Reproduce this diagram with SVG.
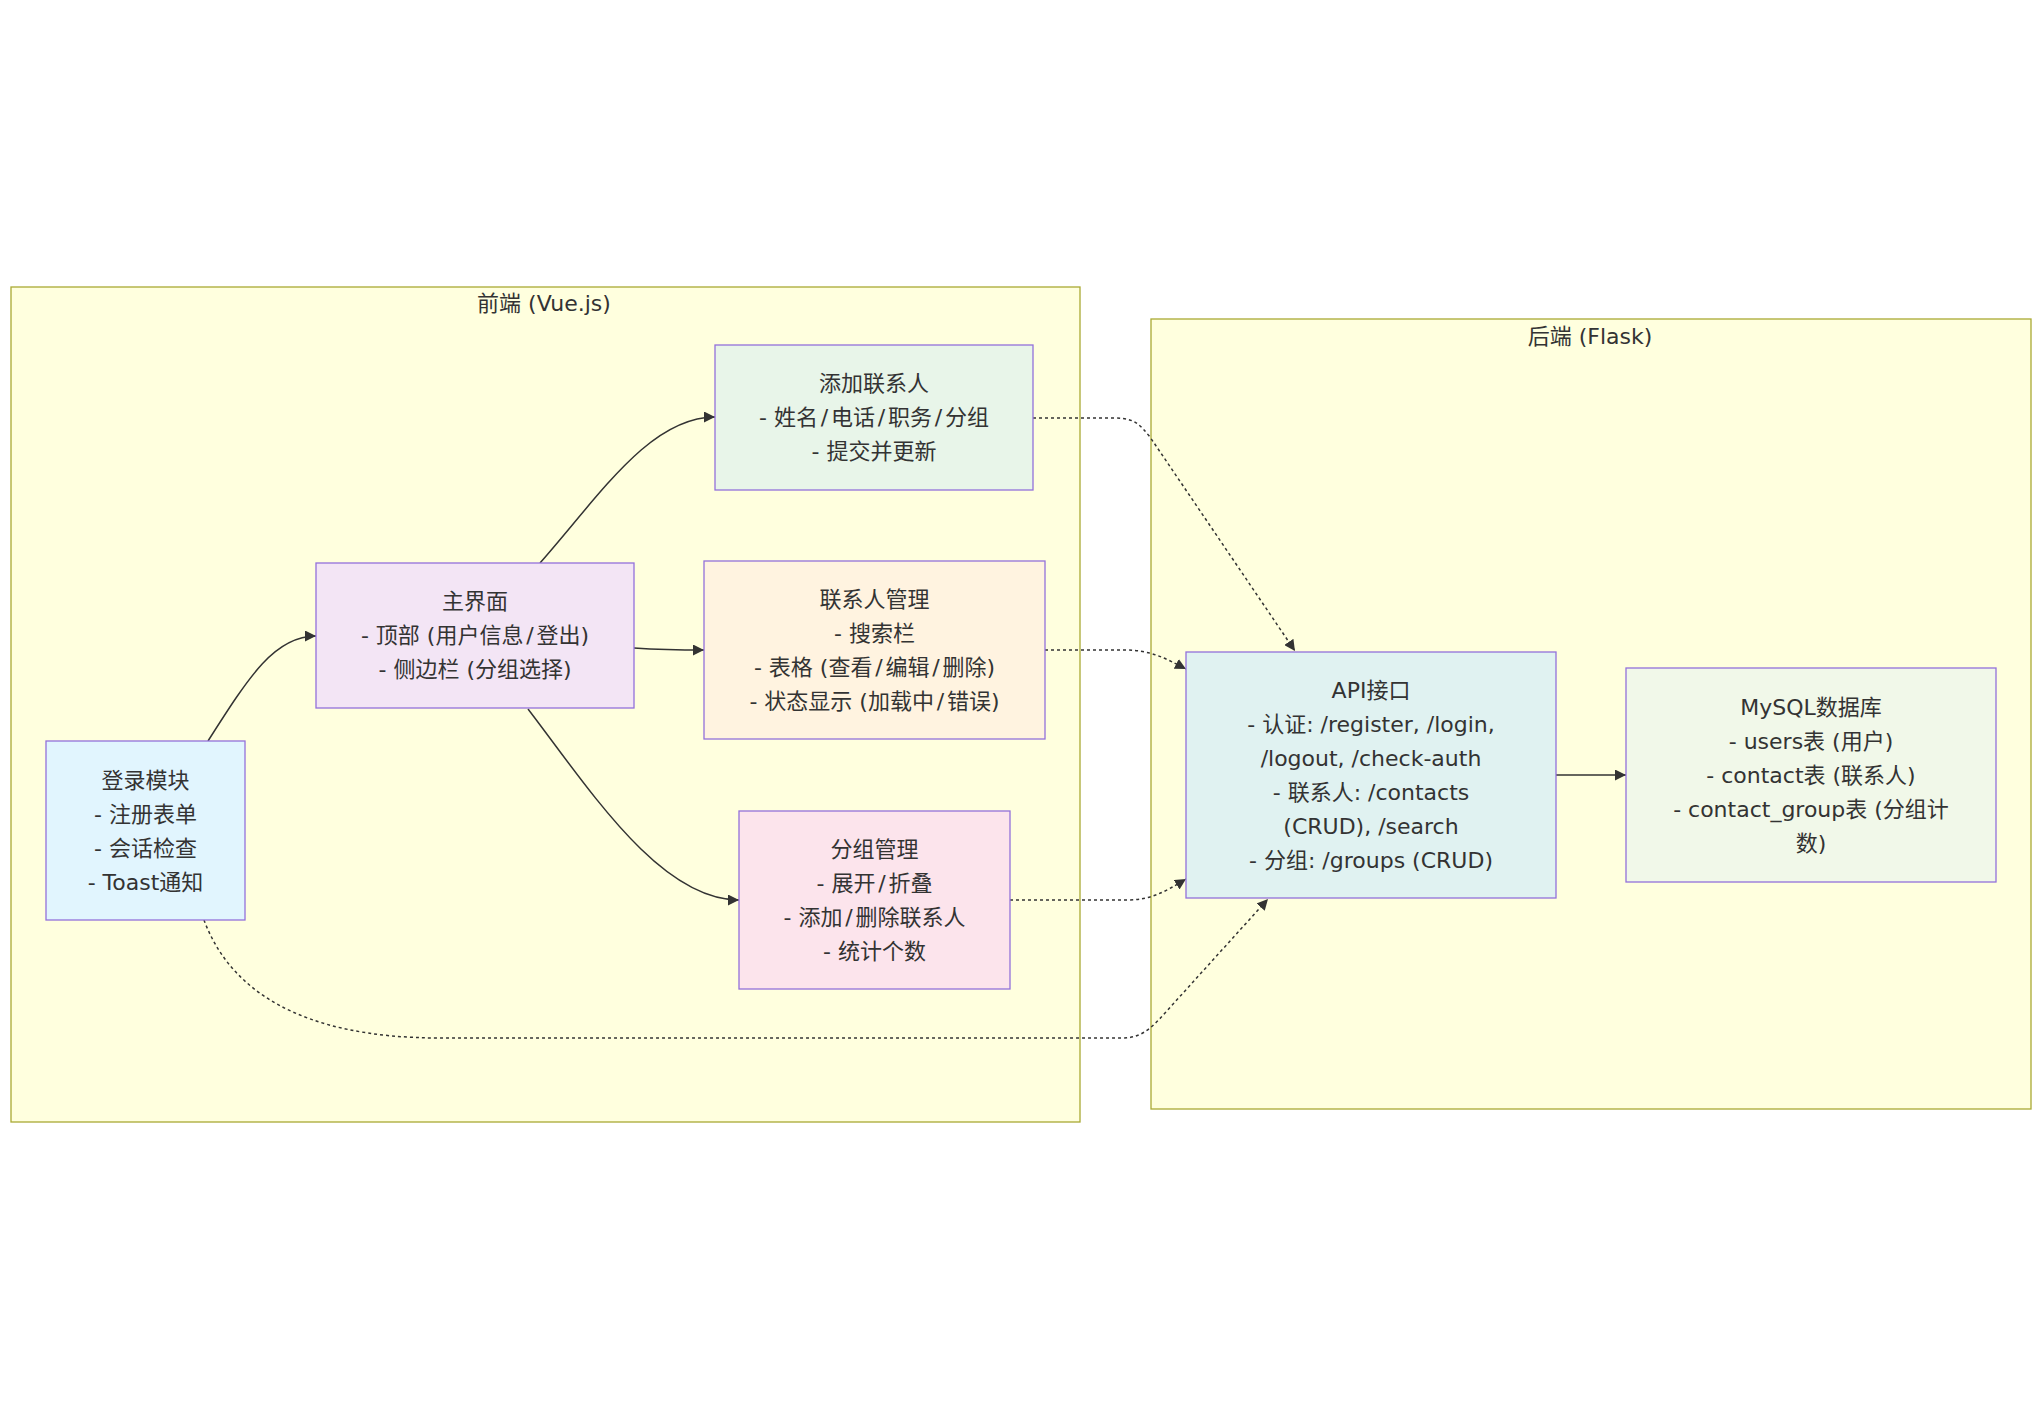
<svg xmlns="http://www.w3.org/2000/svg" width="2042" height="1410" viewBox="0 0 2042 1410">
<style>
  .cluster rect { fill: #ffffde; stroke: #aaaa33; stroke-width: 1.3; }
  .node rect { stroke: #9370db; stroke-width: 1.3; }
  text { font-family: "DejaVu Sans", "Noto Sans CJK SC", sans-serif; font-size: 22px; fill: #333333; text-anchor: middle; dominant-baseline: central; }
  .edge { fill: none; stroke: #333333; stroke-width: 1.5; }
  .dotted { stroke-dasharray: 3 3; }
</style>
<defs>
  <marker id="arrow" viewBox="0 0 10 10" refX="10" refY="5" markerUnits="userSpaceOnUse" markerWidth="11" markerHeight="11" orient="auto">
    <path d="M0,0 L10,5 L0,10 z" fill="#333333"/>
  </marker>
</defs>
<rect x="0" y="0" width="2042" height="1410" fill="#ffffff"/>

<g id="cluster-frontend" class="cluster">
  <rect x="11" y="287" width="1069" height="835"/>
  <text x="544" y="303">前端 (Vue.js)</text>
</g>
<g id="cluster-backend" class="cluster">
  <rect x="1151" y="319" width="880" height="790"/>
  <text x="1590" y="336">后端 (Flask)</text>
</g>

<g id="connectors">
  <path class="edge" d="M208,741 C250,675 275,636 316,636" marker-end="url(#arrow)"/>
  <path class="edge" d="M540,563 C600,495 650,417 715,417" marker-end="url(#arrow)"/>
  <path class="edge" d="M634,648 C665,650 680,650 704,650" marker-end="url(#arrow)"/>
  <path class="edge" d="M528,709 C590,790 660,900 739,900" marker-end="url(#arrow)"/>
  <path class="edge dotted" d="M1033,418 L1115,418 C1135,418 1140,425 1150,437 L1295,651" marker-end="url(#arrow)"/>
  <path class="edge dotted" d="M1045,650 L1125,650 C1150,650 1165,658 1186,669" marker-end="url(#arrow)"/>
  <path class="edge dotted" d="M1010,900 L1128,900 C1150,900 1165,892 1186,879" marker-end="url(#arrow)"/>
  <path class="edge dotted" d="M204,920 C230,990 300,1038 440,1038 L1122,1038 C1140,1038 1150,1030 1165,1013 L1268,899" marker-end="url(#arrow)"/>
  <path class="edge" d="M1556,775 L1626,775" marker-end="url(#arrow)"/>
</g>

<g id="node-login" class="node">
  <rect x="46" y="741" width="199" height="179" fill="#e1f5fe"/>
  <text x="145.5" y="780">登录模块</text>
  <text x="145.5" y="814">- 注册表单</text>
  <text x="145.5" y="848">- 会话检查</text>
  <text x="145.5" y="882">- Toast通知</text>
</g>
<g id="node-main" class="node">
  <rect x="316" y="563" width="318" height="145" fill="#f3e5f5"/>
  <text x="475" y="601">主界面</text>
  <text x="475" y="635">- 顶部 (用户信息<tspan dx="2.8">/</tspan><tspan dx="2.8">登出)</tspan></text>
  <text x="475" y="669">- 侧边栏 (分组选择)</text>
</g>
<g id="node-add" class="node">
  <rect x="715" y="345" width="318" height="145" fill="#e8f5e9"/>
  <text x="874" y="383">添加联系人</text>
  <text x="874" y="417">- 姓名<tspan dx="2.8">/</tspan><tspan dx="2.8">电话</tspan><tspan dx="2.8">/</tspan><tspan dx="2.8">职务</tspan><tspan dx="2.8">/</tspan><tspan dx="2.8">分组</tspan></text>
  <text x="874" y="451">- 提交并更新</text>
</g>
<g id="node-contacts" class="node">
  <rect x="704" y="561" width="341" height="178" fill="#fff3e0"/>
  <text x="874.5" y="599">联系人管理</text>
  <text x="874.5" y="633">- 搜索栏</text>
  <text x="874.5" y="667">- 表格 (查看<tspan dx="2.8">/</tspan><tspan dx="2.8">编辑</tspan><tspan dx="2.8">/</tspan><tspan dx="2.8">删除)</tspan></text>
  <text x="874.5" y="701">- 状态显示 (加载中<tspan dx="2.8">/</tspan><tspan dx="2.8">错误)</tspan></text>
</g>
<g id="node-groups" class="node">
  <rect x="739" y="811" width="271" height="178" fill="#fce4ec"/>
  <text x="874.5" y="849">分组管理</text>
  <text x="874.5" y="883">- 展开<tspan dx="2.8">/</tspan><tspan dx="2.8">折叠</tspan></text>
  <text x="874.5" y="917">- 添加<tspan dx="2.8">/</tspan><tspan dx="2.8">删除联系人</tspan></text>
  <text x="874.5" y="951">- 统计个数</text>
</g>
<g id="node-api" class="node">
  <rect x="1186" y="652" width="370" height="246" fill="#e0f2f1"/>
  <text x="1371" y="690">API接口</text>
  <text x="1371" y="724">- 认证: /register, /login,</text>
  <text x="1371" y="758">/logout, /check-auth</text>
  <text x="1371" y="792">- 联系人: /contacts</text>
  <text x="1371" y="826">(CRUD), /search</text>
  <text x="1371" y="860">- 分组: /groups (CRUD)</text>
</g>
<g id="node-mysql" class="node">
  <rect x="1626" y="668" width="370" height="214" fill="#f1f8e9"/>
  <text x="1811" y="707">MySQL数据库</text>
  <text x="1811" y="741">- users表 (用户)</text>
  <text x="1811" y="775">- contact表 (联系人)</text>
  <text x="1811" y="809">- contact_group表 (分组计</text>
  <text x="1811" y="843">数)</text>
</g>
</svg>
